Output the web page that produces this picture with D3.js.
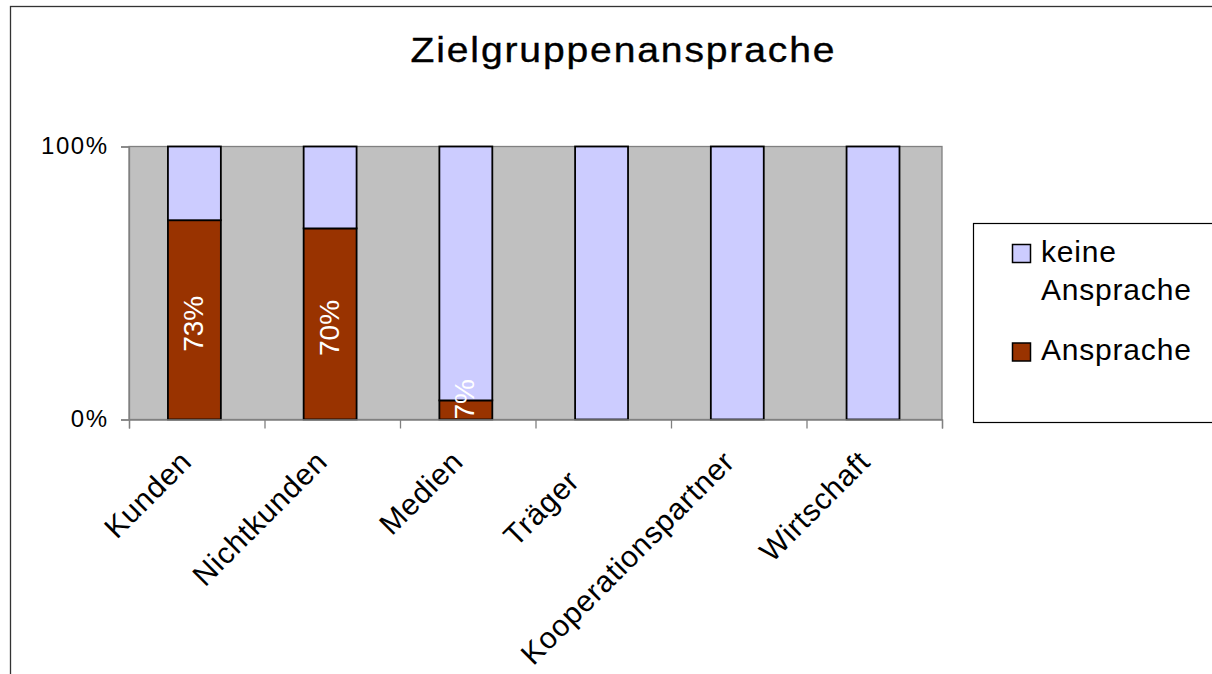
<!DOCTYPE html>
<html>
<head>
<meta charset="utf-8">
<script src="https://cdn.jsdelivr.net/npm/d3@7"></script>
<style>
  html, body { margin: 0; padding: 0; background: #fff; }
  svg { display: block; font-family: "Liberation Sans", Arial, sans-serif; }
</style>
</head>
<body>
<svg id="chart" width="1212" height="674"></svg>
<script>
// ---- data ----
const title = "Zielgruppenansprache";
const categories = ["Kunden", "Nichtkunden", "Medien", "Träger", "Kooperationspartner", "Wirtschaft"];
const tickLabels = ["Kunden", "Nichtkunden", "Medien", "Träger   ", "Kooperationspartner", "Wirtschaft"];
const ansprache = [73, 70, 7, 0, 0, 0];
const keineAnsprache = [27, 30, 93, 100, 100, 100];
const seriesNames = ["Ansprache", "keine Ansprache"];
const seriesColors = ["#993300", "#CCCCFF"];
const yTickValues = [0, 100];
const yTickLabels = ["0%", "100%"];
const legendLines = [["keine", "Ansprache"], ["Ansprache"]];
const legendColors = ["#CCCCFF", "#993300"];

// ---- layout ----
const svg = d3.select("#chart");
const plot = { left: 129, right: 942, top: 146.5, bottom: 419.5 };

svg.append("rect")
  .attr("x", 10.5).attr("y", 6.5).attr("width", 1230).attr("height", 700)
  .attr("fill", "#fff").attr("stroke", "#333").attr("stroke-width", 1.3);

svg.append("text")
  .attr("transform", "translate(622.5,62) scale(1.1,1)")
  .attr("text-anchor", "middle")
  .attr("font-size", 35.5)
  .attr("textLength", 424 / 1.1).attr("lengthAdjust", "spacing")
  .attr("fill", "#000").attr("stroke", "#000").attr("stroke-width", 0.35)
  .text(title);

const x = d3.scaleBand()
  .domain(categories)
  .range([plot.left, plot.right])
  .paddingInner(0.61).paddingOuter(0.3)
  .align(0.478);
const xEdges = d3.scaleLinear().domain([0, categories.length]).range([plot.left, plot.right]);
const y = d3.scaleLinear().domain([0, 100]).range([plot.bottom, plot.top]);

// plot area
svg.append("rect")
  .attr("x", plot.left).attr("y", plot.top)
  .attr("width", plot.right - plot.left).attr("height", plot.bottom - plot.top)
  .attr("fill", "#C0C0C0").attr("stroke", "#808080").attr("stroke-width", 1.3);

// stacked data
const rows = categories.map((c, i) => ({ cat: c, Ansprache: ansprache[i], "keine Ansprache": keineAnsprache[i] }));
const stack = d3.stack().keys(seriesNames)(rows);

const layers = svg.append("g").selectAll("g").data(stack).join("g")
  .attr("fill", (d, i) => seriesColors[i]);
layers.selectAll("rect").data(d => d.filter(p => p[1] > p[0])).join("rect")
  .attr("x", d => x(d.data.cat))
  .attr("width", x.bandwidth())
  .attr("y", d => y(d[1]))
  .attr("height", d => y(d[0]) - y(d[1]))
  .attr("stroke", "#000").attr("stroke-width", 1.8);

// data labels (Ansprache, white, vertical)
const labelG = svg.append("g");
stack[0].forEach(d => {
  if (d[1] - d[0] <= 0) return;
  const cx = x(d.data.cat) + x.bandwidth() / 2;
  const t = labelG.append("text")
    .attr("text-anchor", "middle")
    .attr("font-size", 28)
    .attr("fill", "#fff")
    .attr("dy", "0.3em")
    .text(Math.round(d[1] - d[0]) + "%");
  const len = t.node().getComputedTextLength();
  let cy = (y(d[0]) + y(d[1])) / 2 + 4;
  cy = Math.min(cy, plot.bottom - len / 2);
  t.attr("transform", `translate(${cx},${cy}) rotate(-90)`);
});

// y axis
const yAxis = svg.append("g")
  .attr("transform", `translate(${plot.left},0)`)
  .call(d3.axisLeft(y).tickValues(yTickValues).tickFormat((d, i) => yTickLabels[i]).tickSize(8));
yAxis.select(".domain").attr("stroke", "#808080").attr("stroke-width", 1.3);
yAxis.selectAll(".tick line").attr("stroke", "#808080").attr("stroke-width", 1.3);
yAxis.selectAll(".tick text")
  .attr("x", -20.5).attr("dy", null).attr("y", 7)
  .attr("font-size", 24).attr("letter-spacing", 1.5)
  .attr("font-family", "Liberation Sans, Arial, sans-serif")
  .attr("fill", "#000");

// x axis: tick marks at category edges
const xAxis = svg.append("g")
  .attr("transform", `translate(0,${plot.bottom})`)
  .call(d3.axisBottom(xEdges).tickValues(d3.range(categories.length + 1)).tickFormat("").tickSize(9));
xAxis.select(".domain").attr("stroke", "#808080").attr("stroke-width", 1.3);
xAxis.selectAll(".tick line").attr("stroke", "#808080").attr("stroke-width", 1.3);

// x axis labels rotated -45
const xl = svg.append("g")
  .attr("transform", `translate(0,${plot.bottom})`)
  .call(d3.axisBottom(x).tickSize(0).tickFormat((d, i) => tickLabels[i]));
xl.select(".domain").remove();
xl.selectAll(".tick text")
  .attr("x", 0).attr("y", 0).attr("dy", null)
  .attr("text-anchor", "end")
  .attr("transform", "translate(-1,44) rotate(-45)")
  .attr("font-size", 30).attr("letter-spacing", 0.8)
  .attr("font-family", "Liberation Sans, Arial, sans-serif")
  .attr("fill", "#000")
  .style("white-space", "pre");

// legend
const lg = svg.append("g");
lg.append("rect")
  .attr("x", 973.5).attr("y", 223.5).attr("width", 300).attr("height", 199)
  .attr("fill", "#fff").attr("stroke", "#000").attr("stroke-width", 1.2);
const legendY = [244.5, 343];
legendLines.forEach((lines, i) => {
  lg.append("rect")
    .attr("x", 1012.5).attr("y", legendY[i]).attr("width", 18).attr("height", 18)
    .attr("fill", legendColors[i]).attr("stroke", "#000").attr("stroke-width", 1.5);
  const t = lg.append("text")
    .attr("x", 1041).attr("y", legendY[i] + 17)
    .attr("font-size", 30).attr("letter-spacing", 0.8).attr("fill", "#000");
  lines.forEach((ln, j) => {
    t.append("tspan").attr("x", 1041).attr("dy", j === 0 ? 0 : 38.5).text(ln);
  });
});
</script>
</body>
</html>
